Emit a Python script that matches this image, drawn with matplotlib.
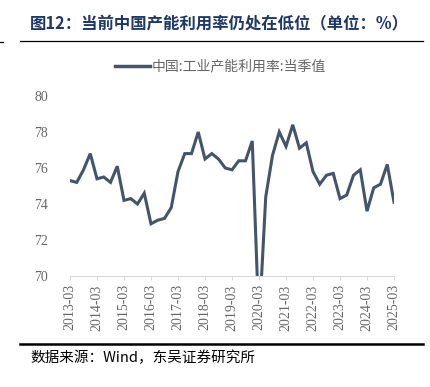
import matplotlib
matplotlib.use('Agg')
import matplotlib.pyplot as plt
from matplotlib.lines import Line2D

# quarterly values, 2013Q1 .. 2025Q1
years = list(range(2013, 2026))
util = [75.3, 75.2, 75.9, 76.8,
        75.4, 75.5, 75.2, 76.1,
        74.2, 74.3, 74.0, 74.6,
        72.9, 73.1, 73.2, 73.8,
        75.8, 76.8, 76.8, 78.0,
        76.5, 76.8, 76.5, 76.0,
        75.9, 76.4, 76.4, 77.5,
        67.3, 74.4, 76.7, 78.0,
        77.2, 78.4, 77.1, 77.4,
        75.8, 75.1, 75.6, 75.7,
        74.3, 74.5, 75.6, 75.9,
        73.6, 74.9, 75.1, 76.2,
        74.1]
tick_labels = ['%d-03' % y for y in years]

title = '图12：当前中国产能利用率仍处在低位（单位：%）'
legend_label = '中国:工业产能利用率:当季值'
source = '数据来源：Wind，东吴证券研究所'

cjk = ['Noto Sans CJK SC', 'DejaVu Sans']
serif = ['Liberation Serif', 'DejaVu Serif']
line_color = '#44546a'
grey = '#666666'

W, H = 430, 387
fig = plt.figure(figsize=(W / 100, H / 100), dpi=100)
ax = fig.add_axes([70 / W, 1 - 276 / H, 324 / W, 180 / H])

x = list(range(len(util)))
ax.plot(x, util, color=line_color, lw=2.2, solid_joinstyle='miter')
ax.set_xlim(0, 48)
ax.set_ylim(70, 80)
ax.set_yticks([70, 72, 74, 76, 78, 80])
ax.set_xticks(list(range(0, 49, 4)))
ax.set_xticklabels(tick_labels, rotation=90, fontfamily=serif,
                   fontsize=10, color=grey)
for lab in ax.get_yticklabels():
    lab.set_fontfamily(serif)
    lab.set_fontsize(10)
    lab.set_color(grey)
ax.tick_params(axis='y', length=0, pad=16)
ax.tick_params(axis='x', length=3, color='#d9d9d9', pad=3)
for s in ['left', 'right', 'top']:
    ax.spines[s].set_visible(False)
ax.spines['bottom'].set_color('#d9d9d9')

# title and rules
fig.text(30 / W, 1 - 24 / H, title, fontfamily=cjk, fontsize=11.8,
         fontweight='bold', color='#1f3864', va='center', ha='left')
fig.add_artist(Line2D([20 / W, 423 / W], [1 - 41 / H, 1 - 41 / H],
                      color='black', lw=0.9))
fig.add_artist(Line2D([0, 3 / W], [1 - 42 / H, 1 - 42 / H],
                      color='black', lw=0.9))
fig.add_artist(Line2D([20 / W, 423 / W], [1 - 344 / H, 1 - 344 / H],
                      color='black', lw=1.8))

# legend
fig.add_artist(Line2D([115 / W, 150 / W], [1 - 66 / H, 1 - 66 / H],
                      color=line_color, lw=2.5))
fig.text(152 / W, 1 - 66 / H, legend_label, fontfamily=cjk, fontsize=10,
         color=grey, va='center', ha='left')

fig.text(30 / W, 1 - 358 / H, source, fontfamily=cjk, fontsize=10.5,
         color='black', va='center', ha='left')

fig.savefig('out.png', dpi=100)
